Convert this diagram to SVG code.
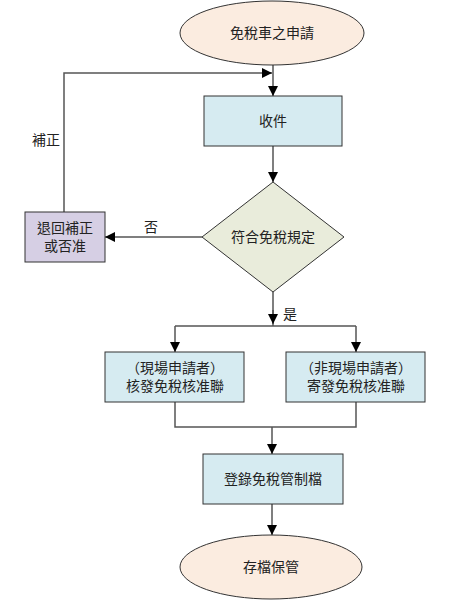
<svg xmlns="http://www.w3.org/2000/svg" width="450" height="600" viewBox="0 0 450 600">
<style>
text{font-family:"Liberation Sans","Noto Sans CJK TC",sans-serif;font-size:14px;fill:#222;text-anchor:middle}
.term{fill:#fbece0;stroke:#333;stroke-width:1}
.proc{fill:#d6ebf1;stroke:#333;stroke-width:1}
.dec{fill:#e9ecdb;stroke:#333;stroke-width:1}
.rej{fill:#d6cfe4;stroke:#333;stroke-width:1}
.ln{fill:none;stroke:#555;stroke-width:1.5}
</style>
<defs>
<marker id="ah" viewBox="0 0 10 10" refX="10" refY="5" markerWidth="10" markerHeight="10" markerUnits="userSpaceOnUse" orient="auto">
<path d="M0,0 L10,5 L0,10 Z" fill="#000"/>
</marker>
</defs>
<g id="connectors">
<path class="ln" d="M273,65 V96" marker-end="url(#ah)"/>
<path class="ln" d="M64,212 V73 H272" marker-end="url(#ah)"/>
<path class="ln" d="M273,146 V182" marker-end="url(#ah)"/>
<path class="ln" d="M202,237 H105" marker-end="url(#ah)"/>
<path class="ln" d="M273,292 V326"/>
<path class="ln" d="M273,310 V324" marker-end="url(#ah)"/>
<path class="ln" d="M175,326 H356"/>
<path class="ln" d="M175,326 V352" marker-end="url(#ah)"/>
<path class="ln" d="M356,326 V352" marker-end="url(#ah)"/>
<path class="ln" d="M175,402 V427 H356 V402"/>
<path class="ln" d="M272,427 V454" marker-end="url(#ah)"/>
<path class="ln" d="M272,504 V535" marker-end="url(#ah)"/>
<text x="46" y="145">補正</text>
<text x="151" y="232">否</text>
<text x="290" y="319">是</text>
</g>
<g id="start">
<ellipse class="term" cx="272" cy="33" rx="92" ry="32"/>
<text x="272" y="38">免稅車之申請</text>
</g>
<g id="receive">
<rect class="proc" x="204" y="96" width="138" height="50"/>
<text x="273" y="126">收件</text>
</g>
<g id="decision">
<polygon class="dec" points="273,182 344,237 273,292 202,237"/>
<text x="273" y="242">符合免稅規定</text>
</g>
<g id="reject">
<rect class="rej" x="25" y="212" width="80" height="50"/>
<text x="65" y="233">退回補正</text>
<text x="65" y="251">或否准</text>
</g>
<g id="onsite">
<rect class="proc" x="105" y="352" width="139" height="50"/>
<text x="175" y="373">（現場申請者）</text>
<text x="175" y="391">核發免稅核准聯</text>
</g>
<g id="offsite">
<rect class="proc" x="286" y="352" width="139" height="50"/>
<text x="356" y="373">（非現場申請者）</text>
<text x="356" y="391">寄發免稅核准聯</text>
</g>
<g id="register">
<rect class="proc" x="203" y="454" width="140" height="50"/>
<text x="273" y="484">登錄免稅管制檔</text>
</g>
<g id="end">
<ellipse class="term" cx="271" cy="567" rx="91" ry="32"/>
<text x="271" y="572">存檔保管</text>
</g>
</svg>
